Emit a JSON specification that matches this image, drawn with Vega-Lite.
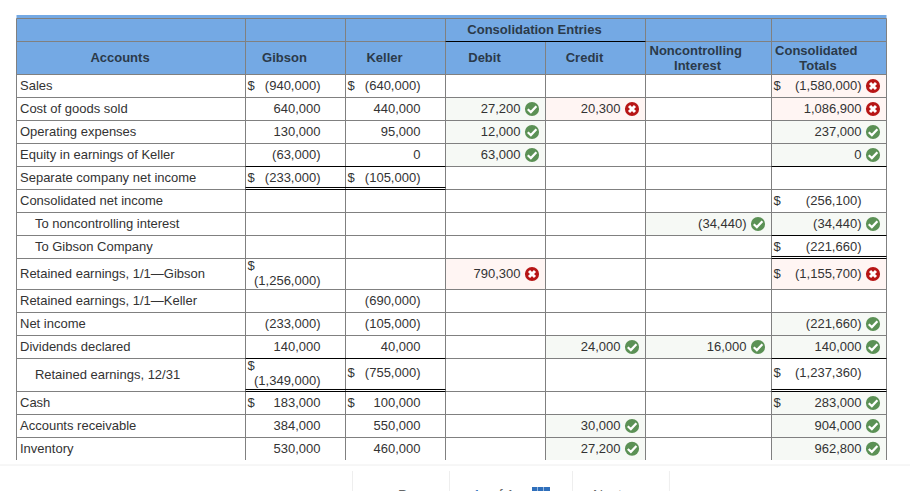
{"$schema":"https://vega.github.io/schema/vega-lite/v6.json",
"width":910,"height":491,"padding":0,
"autosize":{"type":"none"},
"background":"white",
"config":{"view":{"stroke":null},"text":{"font":"Liberation Sans","fontSize":13,"color":"#333"}},
"datasets":{
"fills":[
{"c":0,"c2":7,"r":0,"r2":3,"kind":"header"},
{"c":3,"c2":4,"r":4,"r2":5,"kind":"ok"},{"c":3,"c2":4,"r":5,"r2":6,"kind":"ok"},{"c":3,"c2":4,"r":6,"r2":7,"kind":"ok"},{"c":3,"c2":4,"r":11,"r2":12,"kind":"bad"},
{"c":4,"c2":5,"r":4,"r2":5,"kind":"bad"},{"c":4,"c2":5,"r":14,"r2":15,"kind":"ok"},{"c":4,"c2":5,"r":17,"r2":18,"kind":"ok"},{"c":4,"c2":5,"r":18,"r2":19,"kind":"ok"},
{"c":5,"c2":6,"r":9,"r2":10,"kind":"ok"},{"c":5,"c2":6,"r":14,"r2":15,"kind":"ok"},
{"c":6,"c2":7,"r":3,"r2":4,"kind":"bad"},{"c":6,"c2":7,"r":4,"r2":5,"kind":"bad"},{"c":6,"c2":7,"r":5,"r2":6,"kind":"ok"},{"c":6,"c2":7,"r":6,"r2":7,"kind":"ok"},{"c":6,"c2":7,"r":9,"r2":10,"kind":"ok"},{"c":6,"c2":7,"r":11,"r2":12,"kind":"bad"},{"c":6,"c2":7,"r":13,"r2":14,"kind":"ok"},{"c":6,"c2":7,"r":14,"r2":15,"kind":"ok"},{"c":6,"c2":7,"r":16,"r2":17,"kind":"ok"},{"c":6,"c2":7,"r":17,"r2":18,"kind":"ok"},{"c":6,"c2":7,"r":18,"r2":19,"kind":"ok"}
],
"hlines":[{"r":1,"c":0,"c2":7},{"r":2,"c":0,"c2":7},{"r":3,"c":0,"c2":7},{"r":4,"c":0,"c2":7},{"r":5,"c":0,"c2":7},{"r":6,"c":0,"c2":7},{"r":7,"c":0,"c2":7},{"r":8,"c":0,"c2":7},{"r":9,"c":0,"c2":7},{"r":10,"c":0,"c2":7},{"r":11,"c":0,"c2":7},{"r":12,"c":0,"c2":7},{"r":13,"c":0,"c2":7},{"r":14,"c":0,"c2":7},{"r":15,"c":0,"c2":7},{"r":16,"c":0,"c2":7},{"r":17,"c":0,"c2":7},{"r":18,"c":0,"c2":7}],
"vlines":[{"c":0,"r":1,"r2":19},{"c":1,"r":1,"r2":19},{"c":2,"r":1,"r2":19},{"c":3,"r":1,"r2":19},{"c":4,"r":2,"r2":19},{"c":5,"r":1,"r2":19},{"c":6,"r":1,"r2":19},{"c":7,"r":1,"r2":19}],
"heavy":[{"r":2,"c":3,"c2":5},{"r":7,"c":1,"c2":3},{"r":7.913,"c":1,"c2":3},{"r":8,"c":1,"c2":3},{"r":7,"c":6,"c2":7},{"r":10,"c":6,"c2":7},{"r":10.913,"c":6,"c2":7},{"r":11,"c":6,"c2":7},{"r":15,"c":1,"c2":3},{"r":15,"c":6,"c2":7},{"r":15.939,"c":1,"c2":3},{"r":16,"c":1,"c2":3},{"r":15.939,"c":6,"c2":7},{"r":16,"c":6,"c2":7}],
"headers":[
{"c":4,"r":1.48,"label":"Consolidation Entries"},{"c":0.5,"r":2.5,"label":"Accounts"},{"c":1.5,"r":2.5,"label":"Gibson"},{"c":2.5,"r":2.5,"label":"Keller"},{"c":3.5,"r":2.5,"label":"Debit"},{"c":4.5,"r":2.5,"label":"Credit"},
{"c":5.486,"r":2.28,"label":"Noncontrolling"},{"c":5.5,"r":2.73,"label":"Interest"},{"c":6.485,"r":2.28,"label":"Consolidated"},{"c":6.5,"r":2.73,"label":"Totals"}
],
"accounts":[
{"c":0,"r":3.5,"label":"Sales"},{"c":0,"r":4.5,"label":"Cost of goods sold"},{"c":0,"r":5.5,"label":"Operating expenses"},{"c":0,"r":6.5,"label":"Equity in earnings of Keller"},{"c":0,"r":7.5,"label":"Separate company net income"},{"c":0,"r":8.5,"label":"Consolidated net income"},
{"c":0.065,"r":9.5,"label":"To noncontrolling interest"},{"c":0.065,"r":10.5,"label":"To Gibson Company"},
{"c":0,"r":11.5,"label":"Retained earnings, 1/1—Gibson"},{"c":0,"r":12.5,"label":"Retained earnings, 1/1—Keller"},{"c":0,"r":13.5,"label":"Net income"},{"c":0,"r":14.5,"label":"Dividends declared"},{"c":0.065,"r":15.5,"label":"Retained earnings, 12/31"},{"c":0,"r":16.5,"label":"Cash"},{"c":0,"r":17.5,"label":"Accounts receivable"},{"c":0,"r":18.5,"label":"Inventory"}
],
"dollars":[
{"c":1,"r":3.5},{"c":1,"r":7.5},{"c":1,"r":11.23},{"c":1,"r":15.23},{"c":1,"r":16.5},
{"c":2,"r":3.5},{"c":2,"r":7.5},{"c":2,"r":15.45},{"c":2,"r":16.5},
{"c":6,"r":3.5},{"c":6,"r":8.5},{"c":6,"r":10.5},{"c":6,"r":11.5},{"c":6,"r":15.45},{"c":6,"r":16.5}
],
"values":[
{"c":2,"r":3.5,"text":"(940,000)"},{"c":2,"r":4.5,"text":"640,000"},{"c":2,"r":5.5,"text":"130,000"},{"c":2,"r":6.5,"text":"(63,000)"},{"c":2,"r":7.5,"text":"(233,000)"},{"c":2,"r":11.72,"text":"(1,256,000)"},{"c":2,"r":13.5,"text":"(233,000)"},{"c":2,"r":14.5,"text":"140,000"},{"c":2,"r":15.69,"text":"(1,349,000)"},{"c":2,"r":16.5,"text":"183,000"},{"c":2,"r":17.5,"text":"384,000"},{"c":2,"r":18.5,"text":"530,000"},
{"c":3,"r":3.5,"text":"(640,000)"},{"c":3,"r":4.5,"text":"440,000"},{"c":3,"r":5.5,"text":"95,000"},{"c":3,"r":6.5,"text":"0"},{"c":3,"r":7.5,"text":"(105,000)"},{"c":3,"r":12.5,"text":"(690,000)"},{"c":3,"r":13.5,"text":"(105,000)"},{"c":3,"r":14.5,"text":"40,000"},{"c":3,"r":15.45,"text":"(755,000)"},{"c":3,"r":16.5,"text":"100,000"},{"c":3,"r":17.5,"text":"550,000"},{"c":3,"r":18.5,"text":"460,000"},
{"c":4,"r":4.5,"text":"27,200","status":"ok"},{"c":4,"r":5.5,"text":"12,000","status":"ok"},{"c":4,"r":6.5,"text":"63,000","status":"ok"},{"c":4,"r":11.5,"text":"790,300","status":"bad"},
{"c":5,"r":4.5,"text":"20,300","status":"bad"},{"c":5,"r":14.5,"text":"24,000","status":"ok"},{"c":5,"r":17.5,"text":"30,000","status":"ok"},{"c":5,"r":18.5,"text":"27,200","status":"ok"},
{"c":6,"r":9.5,"text":"(34,440)","status":"ok"},{"c":6,"r":14.5,"text":"16,000","status":"ok"},
{"c":7,"r":3.5,"text":"(1,580,000)","status":"bad"},{"c":7,"r":4.5,"text":"1,086,900","status":"bad"},{"c":7,"r":5.5,"text":"237,000","status":"ok"},{"c":7,"r":6.5,"text":"0","status":"ok"},{"c":7,"r":8.5,"text":"(256,100)"},{"c":7,"r":9.5,"text":"(34,440)","status":"ok"},{"c":7,"r":10.5,"text":"(221,660)"},{"c":7,"r":11.5,"text":"(1,155,700)","status":"bad"},{"c":7,"r":13.5,"text":"(221,660)","status":"ok"},{"c":7,"r":14.5,"text":"140,000","status":"ok"},{"c":7,"r":15.45,"text":"(1,237,360)"},{"c":7,"r":16.5,"text":"283,000","status":"ok"},{"c":7,"r":17.5,"text":"904,000","status":"ok"},{"c":7,"r":18.5,"text":"962,800","status":"ok"}
],
"footrule":[{"c":-1,"c2":8,"r":20}],
"footlines":[{"c":2.07,"r":20.23,"r2":21},{"c":3.04,"r":20.23,"r2":21},{"c":4.27,"r":20.23,"r2":21},{"c":5.19,"r":20.23,"r2":21}],
"foottext":[{"c":2.525,"r":21.43,"text":"Prev"},{"c":3.455,"r":21.43,"text":"of 1"},{"c":4.475,"r":21.43,"text":"Next"}],
"footpage":[{"c":3.275,"r":21.43,"text":"1"}],
"footgrid":[{"c":3.865,"c2":3.92,"r":20.846,"r2":21},{"c":3.925,"c2":3.98,"r":20.846,"r2":21},{"c":3.985,"c2":4.045,"r":20.846,"r2":21}],
"footarrows":[{"c":2.335,"r":21.2,"shape":"triangle-left"},{"c":4.965,"r":21.2,"shape":"triangle-right"}]
},
"encoding":{
"x":{"field":"c","type":"quantitative","axis":null,"scale":{"domain":[-1,0,1,2,3,4,5,6,7,8],"range":[0,16.5,245.5,345.5,445.5,545.5,645.5,771.5,886.5,910],"zero":false,"nice":false}},
"y":{"field":"r","type":"quantitative","axis":null,"scale":{"domain":[0,1,2,3,4,5,6,7,8,9,10,11,12,13,14,15,16,17,18,19,20,21,22],"range":[15,18.5,41.5,74.5,97.5,120.5,143.5,166.5,189.5,212.5,235.5,258.5,289.5,312.5,335.5,358.5,391.5,414.5,437.5,460,465,491,511],"zero":false,"nice":false}}
},
"layer":[
{"data":{"name":"fills"},"mark":{"type":"rect"},
"encoding":{"x2":{"field":"c2"},"y2":{"field":"r2"},
"fill":{"field":"kind","type":"nominal","legend":null,"scale":{"domain":["header","ok","bad"],"range":["#74a9e4","#f6f9f5","#fff5f3"]}}}},
{"data":{"name":"hlines"},"mark":{"type":"rule","color":"#808080","strokeWidth":1},
"encoding":{"x2":{"field":"c2"}}},
{"data":{"name":"vlines"},"mark":{"type":"rule","color":"#808080","strokeWidth":1},
"encoding":{"y2":{"field":"r2"}}},
{"data":{"name":"heavy"},"mark":{"type":"rule","color":"#000","strokeWidth":1},
"encoding":{"x2":{"field":"c2"}}},
{"data":{"name":"headers"},"mark":{"type":"text","fontWeight":"bold","align":"center","baseline":"middle","dx":-11,"color":"#2b3a4a"},
"encoding":{"text":{"field":"label"}}},
{"data":{"name":"accounts"},"mark":{"type":"text","align":"left","baseline":"middle","dx":3.5},
"encoding":{"text":{"field":"label"}}},
{"data":{"name":"dollars"},"mark":{"type":"text","align":"left","baseline":"middle","dx":2},
"encoding":{"text":{"value":"$"}}},
{"data":{"name":"values"},"mark":{"type":"text","align":"right","baseline":"middle","dx":-25},
"encoding":{"text":{"field":"text"}}},
{"data":{"name":"values"},"transform":[{"filter":"isValid(datum.status)"}],
"mark":{"type":"point","filled":true,"size":201,"opacity":1,"shape":"circle","xOffset":-13.5},
"encoding":{"color":{"field":"status","type":"nominal","legend":null,"scale":{"domain":["ok","bad"],"range":["#5b9155","#b71515"]}}}},
{"data":{"name":"values"},"transform":[{"filter":"isValid(datum.status)"}],
"mark":{"type":"point","filled":false,"size":201,"opacity":1,"color":"white","xOffset":-13.5},
"encoding":{"strokeWidth":{"condition":{"test":"datum.status === 'bad'","value":3},"value":2.2},
"shape":{"field":"status","type":"nominal","legend":null,"scale":{"domain":["ok","bad"],"range":["M-0.6,0.04 L-0.16,0.44 L0.62,-0.38","M-0.42,-0.42 L0.42,0.42 M0.42,-0.42 L-0.42,0.42"]}}}},
{"data":{"name":"footrule"},"mark":{"type":"rule","color":"#eeeeee","strokeWidth":1},
"encoding":{"x2":{"field":"c2"}}},
{"data":{"name":"footlines"},"mark":{"type":"rule","color":"#eeeeee","strokeWidth":1},
"encoding":{"y2":{"field":"r2"}}},
{"data":{"name":"foottext"},"mark":{"type":"text","align":"left","baseline":"alphabetic","fontSize":14,"clip":true,"color":"#666666"},
"encoding":{"text":{"field":"text"}}},
{"data":{"name":"footpage"},"mark":{"type":"text","align":"left","baseline":"alphabetic","fontSize":14,"clip":true,"color":"#2f6fbb"},
"encoding":{"text":{"field":"text"}}},
{"data":{"name":"footgrid"},"mark":{"type":"rect","color":"#2f6fbb","clip":true},
"encoding":{"x2":{"field":"c2"},"y2":{"field":"r2"}}},
{"data":{"name":"footarrows"},"mark":{"type":"point","filled":true,"size":60,"opacity":1,"color":"#c9d8ea","clip":true},
"encoding":{"shape":{"field":"shape","type":"nominal","legend":null,"scale":null}}}
]}
